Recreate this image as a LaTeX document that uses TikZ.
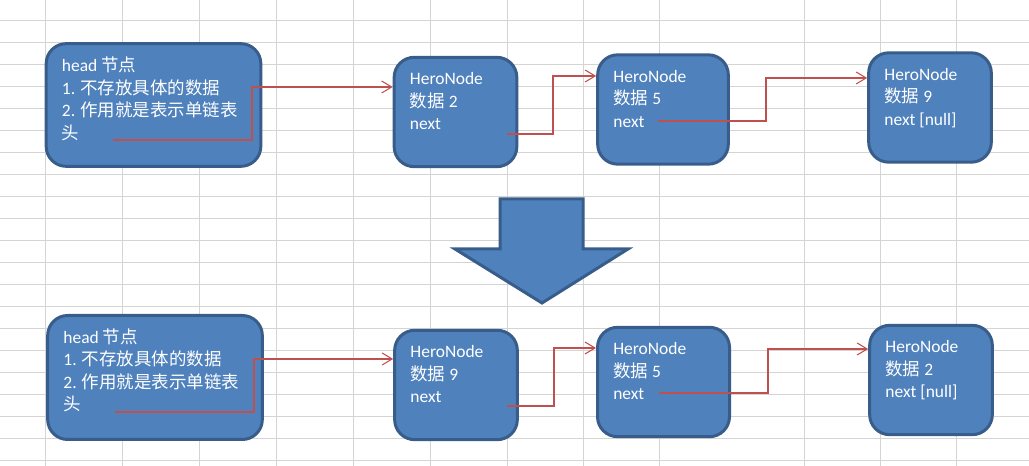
\documentclass[tikz,border=0pt]{standalone}
\usepackage{fontspec}
\setmainfont{Carlito}
\newfontfamily\cjk{Noto Sans CJK SC}
\usepackage{xcolor}
\definecolor{NodeBlue}{RGB}{79,129,189}
\definecolor{EdgeBlue}{RGB}{56,93,138}
\definecolor{LinkRed}{RGB}{192,80,77}
\definecolor{GridGray}{RGB}{212,212,212}
\usetikzlibrary{
    arrows.meta,
    positioning,
    calc
}
\newcommand{\zh}[1]{{\cjk #1}}

\begin{document}
\begin{tikzpicture}[
    x=0.75pt,
    y=-0.75pt,
    heronode/.style={
        rectangle,
        rounded corners=15pt,
        fill=NodeBlue,
        draw=EdgeBlue,
        line width=2.25pt,
        minimum width=92pt,
        minimum height=82pt
    },
    headnode/.style={
        heronode,
        minimum width=161pt,
        minimum height=92pt
    },
    nodetext/.style={
        anchor=base west,
        align=left,
        text=white,
        inner sep=0pt,
        font=\fontsize{13.1}{16.9}\selectfont
    },
    link/.style={
        LinkRed,
        line width=0.8pt,
        -{Straight Barb[length=7.5pt,width=9pt]}
    }
]
%
    \useasboundingbox (0,0) rectangle (1029,466);
%
    % Sheet grid
%
    \foreach \gx in {45,122,199,276,353,430,507,583,659,804,880,956}
        \draw[GridGray, line width=0.75pt] (\gx,0) -- (\gx,466);
    \foreach \gy in {21,43,...,461}
        \draw[GridGray, line width=0.75pt] (0,\gy) -- (1029,\gy);
%
    % Before: head -> 2 -> 5 -> 9
%
    \node[headnode] (head1) at (153.5,105) {};
    \node[heronode] (top2) at (455.5,112) {};
    \node[heronode, minimum width=98pt] (top5) at (663,109.5) {};
    \node[heronode] (top9) at (930,107.5) {};
%
    % base = last line, so shift by the last baseline
    \node[nodetext] (head1txt) at ([shift={(17,97)}]head1.north west) {
        head \zh{节点}\\
        1. \zh{不存放具体的数据}\\
        2. \zh{作用就是表示单链表}\\
        \zh{头}
    };
    \node[nodetext] (top2txt) at ([shift={(17,74)}]top2.north west) {
        HeroNode\\
        \zh{数据} 2\\
        next
    };
    \node[nodetext] (top5txt) at ([shift={(17,74)}]top5.north west) {
        HeroNode\\
        \zh{数据} 5\\
        next
    };
    \node[nodetext] (top9txt) at ([shift={(17,74)}]top9.north west) {
        HeroNode\\
        \zh{数据} 9\\
        next [null]
    };
%
    \coordinate (head1next) at (113,140);
    \coordinate (top2next) at (507,134);
    \coordinate (top5next) at (658,121);
%
    \draw[link] (head1next) -- ++(139,0) |- (top2.west |- 0,87);
    \draw[link] (top2next) -- ++(46,0) |- (top5.west |- 0,76);
    \draw[link] (top5next) -- ++(108,0) |- (top9.west |- 0,78);
%
    % Reverse
%
    \draw[
        fill=NodeBlue,
        draw=EdgeBlue,
        line width=2.25pt
    ]
    (500,199) -- (583,199) -- (583,249) -- (628,249)
    -- (542,303) -- (455,249) -- (500,249) -- cycle;
%
    % After: head -> 9 -> 5 -> 2
%
    \node[headnode, minimum height=93pt] (head2) at (155,377.5) {};
    \node[heronode] (bot9) at (456,385) {};
    \node[heronode, minimum width=99pt] (bot5) at (663.5,382) {};
    \node[heronode] (bot2) at (931,380) {};
%
    \node[nodetext] (head2txt) at ([shift={(17,97)}]head2.north west) {
        head \zh{节点}\\
        1. \zh{不存放具体的数据}\\
        2. \zh{作用就是表示单链表}\\
        \zh{头}
    };
    \node[nodetext] (bot9txt) at ([shift={(17,74)}]bot9.north west) {
        HeroNode\\
        \zh{数据} 9\\
        next
    };
    \node[nodetext] (bot5txt) at ([shift={(17,74)}]bot5.north west) {
        HeroNode\\
        \zh{数据} 5\\
        next
    };
    \node[nodetext] (bot2txt) at ([shift={(17,74)}]bot2.north west) {
        HeroNode\\
        \zh{数据} 2\\
        next [null]
    };
%
    \coordinate (head2next) at (115,412);
    \coordinate (bot9next) at (507,406);
    \coordinate (bot5next) at (659,393);
%
    \draw[link] (head2next) -- ++(139,0) |- (bot9.west |- 0,359);
    \draw[link] (bot9next) -- ++(47,0) |- (bot5.west |- 0,348);
    \draw[link] (bot5next) -- ++(109,0) |- (bot2.west |- 0,349);
%
\end{tikzpicture}
\end{document}
